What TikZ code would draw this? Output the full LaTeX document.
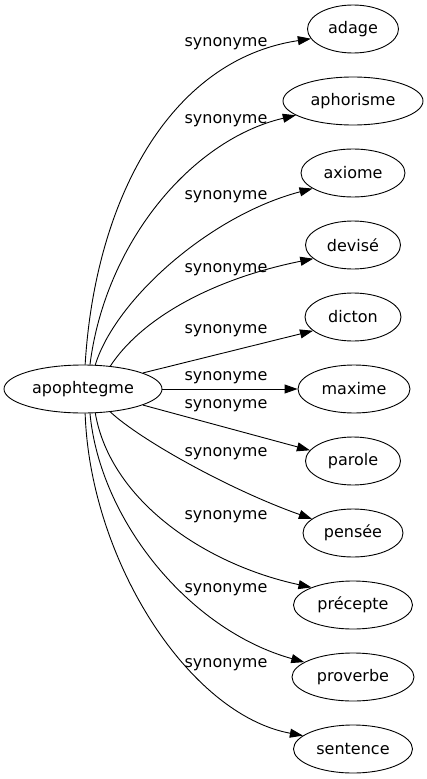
\documentclass[tikz,border=0pt]{standalone}
\usepackage{fontspec}
\setmainfont{DejaVu Sans}
\usetikzlibrary{arrows.meta,shapes.geometric}
\begin{document}
\begin{tikzpicture}[x=1pt,y=-1pt,
  word/.style={draw, ellipse, line width=0.9pt, minimum height=48pt, inner sep=0pt,
    font=\fontsize{16}{19}\selectfont},
  lbl/.style={font=\fontsize{16}{19}\selectfont, inner sep=0pt},
  edge/.style={draw, line width=0.9pt, -{Triangle[length=13pt,width=9pt]}}]
\useasboundingbox (0,0) rectangle (427,779);
\node[word, minimum width=158pt] (src) at (83,389) {apophtegme};
\node[word, minimum width=91pt]  (adage)     at (353,29)  {adage};
\node[word, minimum width=140pt] (aphorisme) at (353,101) {aphorisme};
\node[word, minimum width=104pt] (axiome)    at (353,173) {axiome};
\node[word, minimum width=95pt]  (devise)    at (353,245) {devisé};
\node[word, minimum width=96pt]  (dicton)    at (353,317) {dicton};
\node[word, minimum width=112pt] (maxime)    at (354,389) {maxime};
\node[word, minimum width=95pt]  (parole)    at (353,461) {parole};
\node[word, minimum width=100pt] (pensee)    at (353,533) {pensée};
\node[word, minimum width=119pt] (precepte)  at (353,605) {précepte};
\node[word, minimum width=122pt] (proverbe)  at (353,677) {proverbe};
\node[word, minimum width=119pt] (sentence)  at (353,749) {sentence};

\draw[edge] (src.85) .. controls +(10,-165) and +(-141,21) .. (adage.193)
  node[lbl] at (226,44) {synonyme};
\draw[edge] (src.74) .. controls +(15,-120) and +(-106,25) .. (aphorisme.194)
  node[lbl] at (226,121) {synonyme};
\draw[edge] (src.63) .. controls +(20,-65) and +(-103,27) .. (axiome.201)
  node[lbl] at (226,197) {synonyme};
\draw[edge] (src.40) .. controls +(30,-46) and +(-104,21) .. (devise.199)
  node[lbl] at (226,270) {synonyme};
\draw[edge] (src.15) -- (dicton.199)
  node[lbl] at (226,331) {synonyme};
\draw[edge] (src.0) -- (maxime.west)
  node[lbl] at (226,378) {synonyme};
\draw[edge] (src.-15) -- (parole.166)
  node[lbl] at (226,406) {synonyme};
\draw[edge] (src.-40) .. controls +(30,28) and +(-82,-29) .. (pensee.161)
  node[lbl] at (226,454) {synonyme};
\draw[edge] (src.-63) .. controls +(15,87) and +(-107,-23) .. (precepte.157)
  node[lbl] at (226,517) {synonyme};
\draw[edge] (src.-74) .. controls +(10,107) and +(-115,-32) .. (proverbe.163)
  node[lbl] at (226,590) {synonyme};
\draw[edge] (src.-85) .. controls +(5,147) and +(-114,-21) .. (sentence.165)
  node[lbl] at (226,665) {synonyme};
\end{tikzpicture}
\end{document}
